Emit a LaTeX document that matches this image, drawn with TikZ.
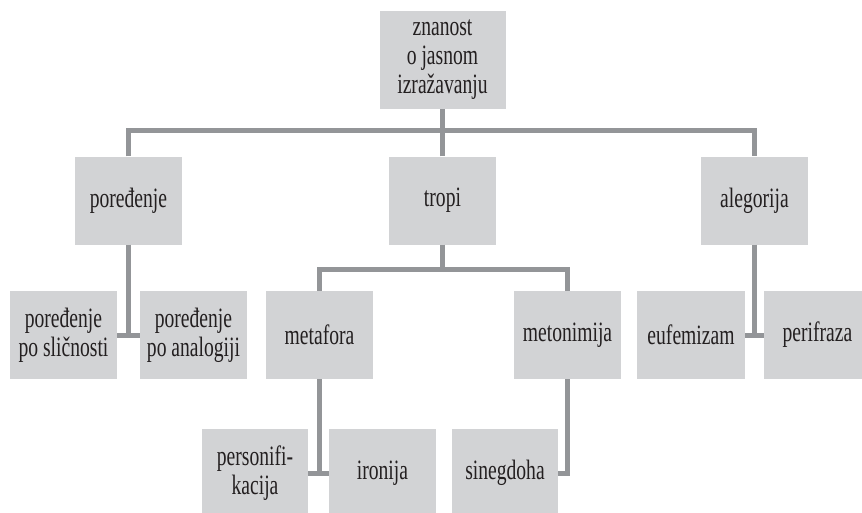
\documentclass[tikz,border=0pt]{standalone}
\usepackage{fontspec}
\setmainfont[FakeStretch=0.70]{Liberation Serif}
\definecolor{boxgray}{HTML}{D2D3D5}
\definecolor{linegray}{HTML}{939598}
\definecolor{txt}{HTML}{231F20}
\begin{document}
\begin{tikzpicture}[x=1pt,y=-1pt,
  box/.style={fill=boxgray, minimum width=107pt, minimum height=88pt, inner sep=0pt,
    align=center, font=\fontsize{28}{29}\selectfont, text=txt},
  conn/.style={draw=linegray, line width=5pt, line join=miter}]
\useasboundingbox (0,0) rectangle (862,512);
\clip (0,0) rectangle (862,512);
% nodes
\node[box, minimum width=126pt, minimum height=98pt] (top) at (442.5,60) {znanost\\o jasnom\\izražavanju};
\node[box] (por) at (128.5,200.5) {poređenje};
\node[box] (tropi) at (442.5,200.5) {tropi};
\node[box] (aleg) at (754.5,200.5) {alegorija};
\node[box] (ps) at (63.5,335) {poređenje\\po sličnosti};
\node[box] (pa) at (193.5,335) {poređenje\\po analogiji};
\node[box] (meta) at (319.5,335) {metafora};
\node[box] (meto) at (567.5,335) {metonimija};
\node[box, minimum width=108pt] (euf) at (691,335) {eufemizam};
\node[box] (peri) at (817.5,335) {perifraza};
\node[box, minimum width=106pt] (pers) at (255,473) {personifi-\\kacija};
\node[box] (iron) at (382.5,473) {ironija};
\node[box, minimum width=106pt] (sin) at (505,473) {sinegdoha};
% connectors
\coordinate (h1) at (0,130);
\coordinate (h2) at (0,269.5);
\draw[conn] (top.south) -- (top.south |- h1);
\draw[conn] (por.north) |- (aleg.north |- h1) -- (aleg.north);
\draw[conn] (tropi.north) -- (tropi.north |- h1);
\draw[conn] (por.south) -- (por.south |- ps.east);
\draw[conn] (ps.east) -- (pa.west);
\draw[conn] (tropi.south) -- (tropi.south |- h2);
\draw[conn] (meta.north) |- (meto.north |- h2) -- (meto.north);
\draw[conn] (meta.south) -- (meta.south |- pers.east);
\draw[conn] (pers.east) -- (iron.west);
\draw[conn] (meto.south) |- (sin.east);
\draw[conn] (aleg.south) -- (aleg.south |- euf.east);
\draw[conn] (euf.east) -- (peri.west);
\end{tikzpicture}
\end{document}
